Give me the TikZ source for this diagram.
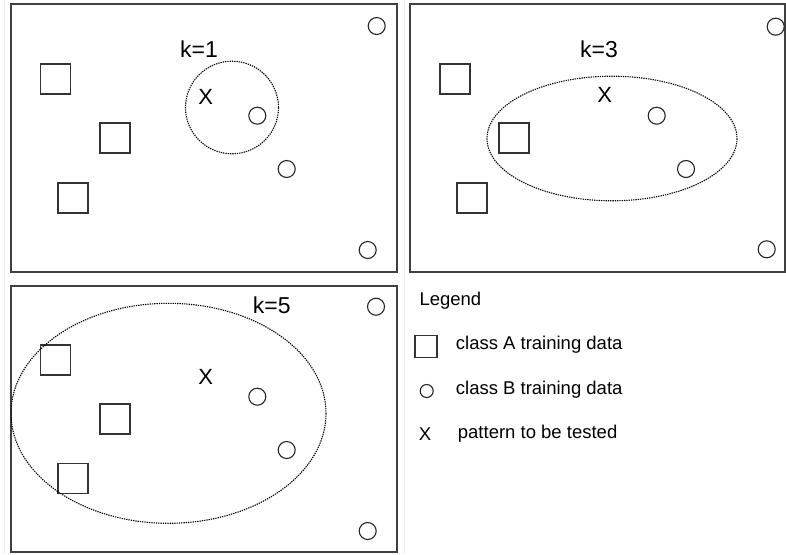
\documentclass[tikz,border=0pt]{standalone}
\usepackage{fontspec}
\setmainfont{Liberation Sans}
\begin{document}
\begin{tikzpicture}[x=1pt,y=-1pt,
  panel/.style={draw=black!75,line width=1.1pt},
  sq/.style={draw=black!80,line width=1.1pt,minimum size=30pt,inner sep=0pt,rectangle},
  bc/.style={draw=black!85,line width=1.1pt,circle,minimum size=17pt,inner sep=0pt},
  nb/.style={draw=black,line width=1.1pt,dash pattern=on 1.3pt off 1pt},
  ktxt/.style={font=\fontsize{23}{27}\selectfont,inner sep=0pt},
  xtxt/.style={font=\fontsize{22}{26}\selectfont,inner sep=0pt},
  lg/.style={font=\fontsize{18.5}{22}\selectfont,inner sep=0pt,anchor=west},
  artif/.style={draw=black!12,line width=1pt,dash pattern=on 1pt off 1pt}]
\useasboundingbox (0,0) rectangle (786,554);
\fill[white] (0,0) rectangle (786,554);
\draw[artif] (4,0) -- (4,554);
\draw[artif] (404,0) -- (404,554);
% panel 1
\draw[panel] (11,4) rectangle (397,272);
\node[ktxt] (k1) at (199,49) {k=1};
\node[sq] (a1) at (55.5,79) {};
\node[sq] (a2) at (115,138) {};
\node[sq] (a3) at (73,198) {};
\draw[nb] (232,107.5) ellipse [x radius=46.5,y radius=46.3];
\node[xtxt] (x1) at (205.7,96.7) {X};
\node[bc] (b1) at (376.7,26) {};
\node[bc] (b2) at (257.3,115.7) {};
\node[bc] (b3) at (286.7,169) {};
\node[bc] (b4) at (367.7,250) {};
% panel 2
\draw[panel] (410,4) rectangle (785,272);
\node[ktxt] (k3) at (599,49) {k=3};
\node[sq] (c1) at (455,79) {};
\node[sq] (c2) at (514,138) {};
\node[sq] (c3) at (472,198) {};
\draw[nb] (612,138.5) ellipse [x radius=125,y radius=62.3];
\node[xtxt] (x3) at (604.7,95) {X};
\node[bc] (d1) at (775.7,26.7) {};
\node[bc] (d2) at (656.7,115.7) {};
\node[bc] (d3) at (686,169) {};
\node[bc] (d4) at (766.7,249.3) {};
% panel 3
\draw[panel] (11,286) rectangle (397,552);
\node[ktxt] (k5) at (271.7,305) {k=5};
\node[sq] (e1) at (55.5,360) {};
\node[sq] (e2) at (115,419) {};
\node[sq] (e3) at (73,478.5) {};
\draw[nb] (168.5,413.3) ellipse [x radius=157.5,y radius=110];
\node[xtxt] (x5) at (205.7,376.7) {X};
\node[bc] (f1) at (376,306.7) {};
\node[bc] (f2) at (257.3,396.7) {};
\node[bc] (f3) at (286.7,450) {};
\node[bc] (f4) at (367.7,531) {};
% legend
\node[lg] (lt) at (419.3,300.7) {Legend};
\node[sq,minimum size=22pt] (ls) at (426,346.7) {};
\node[lg] (la) at (455.7,345) {class A training data};
\node[bc,minimum size=13pt] (lc) at (426.7,391) {};
\node[lg] (lb) at (455.7,389.3) {class B training data};
\node[font=\fontsize{18.5}{22}\selectfont,inner sep=0pt] (lx) at (425,434) {X};
\node[lg] (lp) at (457.7,434) {pattern to be tested};
\end{tikzpicture}
\end{document}
